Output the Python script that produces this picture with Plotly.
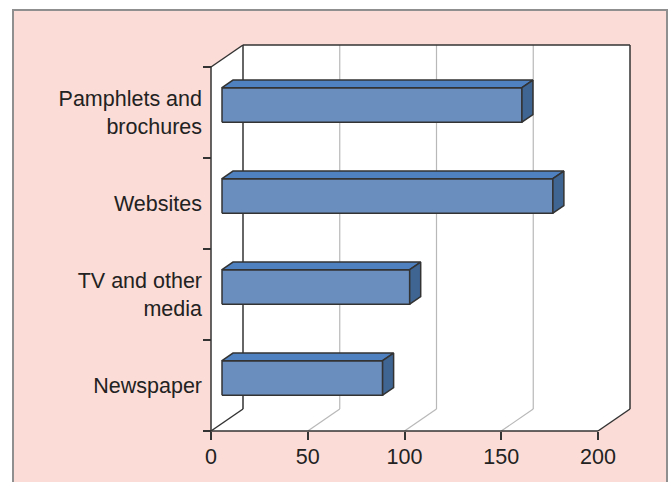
import plotly.graph_objects as go

# ---- data -------------------------------------------------------------
categories = ["Newspaper", "TV and other<br>media", "Websites", "Pamphlets and<br>brochures"]
values = [83, 97, 171, 155]
x_ticks = [0, 50, 100, 150, 200]
x_max = 200

# ---- look ---------------------------------------------------------------
W, H = 669, 482
M_L, M_R, M_T, M_B = 205, 25, 28, 45
PX_X = 1.935          # pixels per value unit
PX_Y = 91.0           # pixels per category band
AXIS_PAD = 6          # px between plot edge and the front axes
DEPTH_PX = (32, 22)   # oblique offset of the back wall in pixels
BAR_FRONT, BAR_BACK = 0.344, 0.6875   # bar depth as fraction of the box depth
BAR_HALF = 0.19       # half bar height in category units

FONT = "Liberation Sans, Arial, sans-serif"
FONT_SIZE = 21.5
TEXT = "#222222"
EDGE = "#333333"
GRID = "#b8b8b8"
BG_PINK = "#fbdcd6"
FRONT = "#6a8ebe"
TOP = "#4f80c0"
SIDE = "#3f6592"

# depth offset expressed in data units
DX = DEPTH_PX[0] / PX_X
DY = DEPTH_PX[1] / PX_Y

plot_w = W - M_L - M_R
plot_h = H - M_T - M_B
x_lo = -AXIS_PAD / PX_X
x_hi = x_lo + plot_w / PX_X
y_lo = -AXIS_PAD / PX_Y
y_hi = y_lo + plot_h / PX_Y
n_cat = len(categories)


def proj(v, c, d):
    """Map (value, category position, depth fraction) onto the 2-D axes."""
    return v + d * DX, c + d * DY


def poly(points):
    xs, ys = zip(*points)
    return list(xs) + [xs[0]], list(ys) + [ys[0]]


def seg_trace(segments, color, width):
    xs, ys = [], []
    for a, b in segments:
        xs += [a[0], b[0], None]
        ys += [a[1], b[1], None]
    return go.Scatter(x=xs, y=ys, mode="lines", hoverinfo="skip",
                      line=dict(color=color, width=width), showlegend=False)


fig = go.Figure()

# white walls: floor, left side wall, back wall
walls = [
    [proj(0, 0, 0), proj(x_max, 0, 0), proj(x_max, 0, 1), proj(0, 0, 1)],
    [proj(0, 0, 0), proj(0, n_cat, 0), proj(0, n_cat, 1), proj(0, 0, 1)],
    [proj(0, 0, 1), proj(x_max, 0, 1), proj(x_max, n_cat, 1), proj(0, n_cat, 1)],
]
for w in walls:
    xs, ys = poly(w)
    fig.add_trace(go.Scatter(x=xs, y=ys, fill="toself", fillcolor="white",
                             mode="none", hoverinfo="skip", showlegend=False))

# gridlines on the back wall and across the floor
grid_segs = []
for t in x_ticks[1:-1]:
    grid_segs.append((proj(t, 0, 1), proj(t, n_cat, 1)))
    grid_segs.append((proj(t, 0, 0), proj(t, 0, 1)))
fig.add_trace(seg_trace(grid_segs, GRID, 1.2))

# box edges
edge_segs = [
    (proj(0, 0, 0), proj(x_max, 0, 0)),
    (proj(0, 0, 0), proj(0, n_cat, 0)),
    (proj(0, n_cat, 0), proj(0, n_cat, 1)),
    (proj(0, 0, 0), proj(0, 0, 1)),
    (proj(0, 0, 1), proj(0, n_cat, 1)),
    (proj(0, n_cat, 1), proj(x_max, n_cat, 1)),
    (proj(x_max, n_cat, 1), proj(x_max, 0, 1)),
    (proj(x_max, 0, 0), proj(x_max, 0, 1)),
]
fig.add_trace(seg_trace(edge_segs, EDGE, 1.5))

# 3-D bars
for i, v in enumerate(values):
    c = i + 0.5
    lo, hi = c - BAR_HALF, c + BAR_HALF
    faces = [
        ([proj(0, lo, BAR_FRONT), proj(v, lo, BAR_FRONT),
          proj(v, hi, BAR_FRONT), proj(0, hi, BAR_FRONT)], FRONT),
        ([proj(0, hi, BAR_FRONT), proj(v, hi, BAR_FRONT),
          proj(v, hi, BAR_BACK), proj(0, hi, BAR_BACK)], TOP),
        ([proj(v, lo, BAR_FRONT), proj(v, lo, BAR_BACK),
          proj(v, hi, BAR_BACK), proj(v, hi, BAR_FRONT)], SIDE),
    ]
    for pts, col in faces:
        xs, ys = poly(pts)
        fig.add_trace(go.Scatter(x=xs, y=ys, fill="toself", fillcolor=col,
                                 mode="lines", line=dict(color=EDGE, width=1.5),
                                 hoverinfo="skip", showlegend=False))

# pink panel with a grey frame behind everything
def px_to_paper_x(px):
    return (px - M_L) / plot_w


def px_to_paper_y(py):
    return (H - M_B - py) / plot_h


fig.add_shape(type="rect", xref="paper", yref="paper", layer="below",
              x0=px_to_paper_x(13), x1=px_to_paper_x(667),
              y0=px_to_paper_y(H + 5), y1=px_to_paper_y(10),
              fillcolor=BG_PINK, line=dict(color="#8f8f8f", width=2))

fig.update_layout(
    width=W, height=H,
    margin=dict(l=M_L, r=M_R, t=M_T, b=M_B, pad=0),
    paper_bgcolor="white",
    plot_bgcolor="rgba(0,0,0,0)",
    font=dict(family=FONT, size=FONT_SIZE, color=TEXT),
    showlegend=False,
    xaxis=dict(
        range=[x_lo, x_hi], showgrid=False, zeroline=False, showline=False,
        tickvals=x_ticks, ticks="outside", ticklen=8, tickwidth=1.5,
        tickcolor=EDGE, anchor="free", position=AXIS_PAD / plot_h,
        ticklabelstandoff=-2,
        tickfont=dict(size=FONT_SIZE, color=TEXT, family=FONT),
    ),
    yaxis=dict(
        range=[y_lo, y_hi], showgrid=False, zeroline=False, showline=False,
        tickvals=[i + 0.5 for i in range(n_cat)], ticktext=categories,
        ticks="", anchor="free", position=AXIS_PAD / plot_w,
        ticklabelstandoff=9,
        minor=dict(tickvals=list(range(n_cat + 1)), ticks="outside",
                   ticklen=8, tickwidth=1.5, tickcolor=EDGE),
        tickfont=dict(size=FONT_SIZE, color=TEXT, family=FONT),
    ),
)

fig.write_html("out.html")
